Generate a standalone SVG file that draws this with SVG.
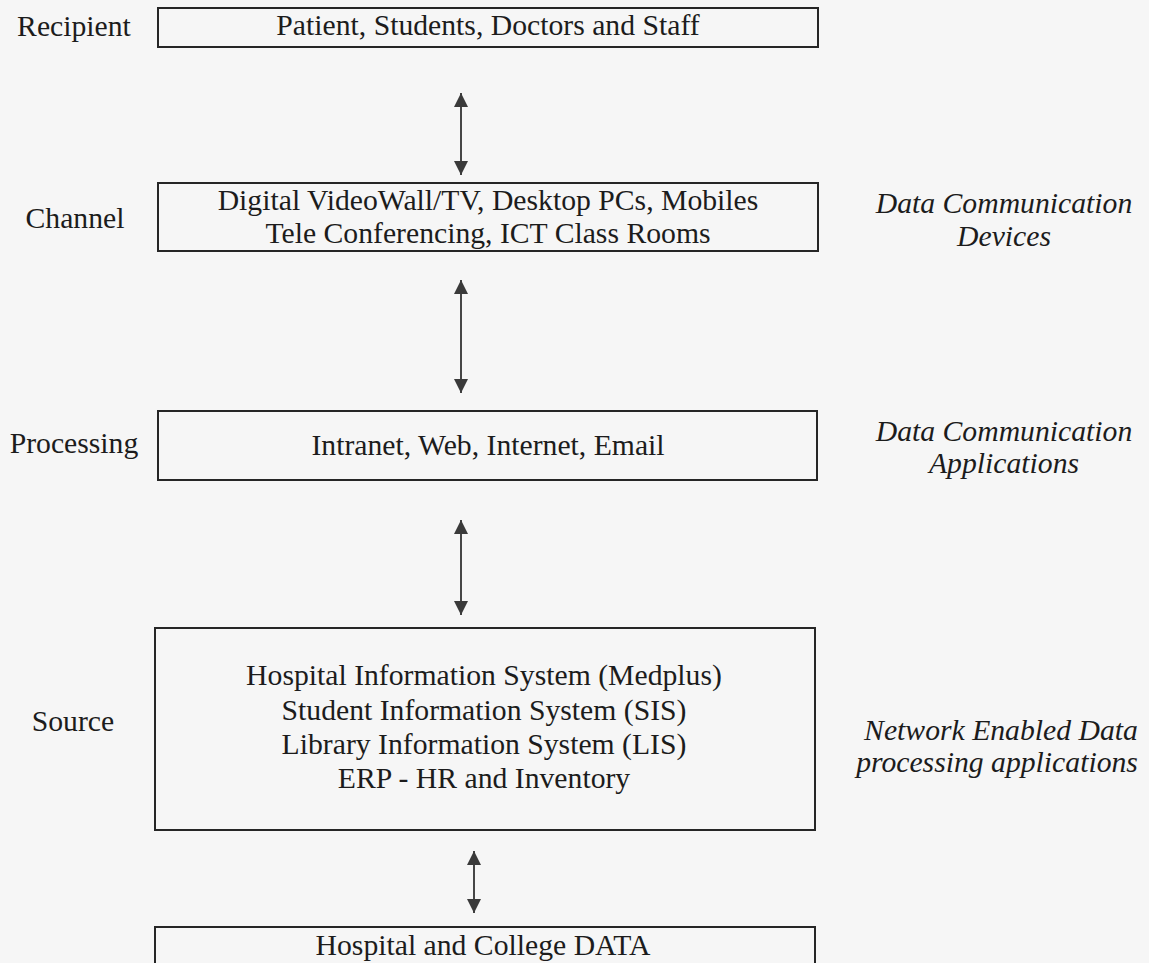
<svg xmlns="http://www.w3.org/2000/svg" width="1149" height="963" viewBox="0 0 1149 963">
  <style>
    text { font-family: "Liberation Serif", "Times New Roman", serif; font-size: 29.7px; fill: #1c1c1c; text-anchor: middle; }
    .side { font-style: italic; }
    .box { fill: none; stroke: #262626; stroke-width: 2; }
    .conn { stroke: #333; stroke-width: 1.8; fill: none; marker-start: url(#arr); marker-end: url(#arr); }
  </style>
  <defs>
    <marker id="arr" markerUnits="userSpaceOnUse" markerWidth="15" markerHeight="15" refX="14" refY="7" orient="auto-start-reverse">
      <path d="M0,0 L14,7 L0,14 z" fill="#3a3a3a"/>
    </marker>
  </defs>
  <rect width="1149" height="963" fill="#f6f6f6"/>

  <g id="labels-left">
    <text x="74" y="36">Recipient</text>
    <text x="75" y="228">Channel</text>
    <text x="74" y="453">Processing</text>
    <text x="73" y="731">Source</text>
  </g>

  <g id="labels-right" class="side">
    <text class="side" x="1004" y="213">Data Communication</text>
    <text class="side" x="1004" y="246">Devices</text>
    <text class="side" x="1004" y="441">Data Communication</text>
    <text class="side" x="1004" y="473">Applications</text>
    <text class="side" x="1001" y="740">Network Enabled Data</text>
    <text class="side" x="997" y="772">processing applications</text>
  </g>

  <g id="recipient">
    <rect class="box" x="158" y="8" width="660" height="39"/>
    <text x="488" y="35">Patient, Students, Doctors and Staff</text>
  </g>

  <g id="channel">
    <rect class="box" x="158" y="183" width="660" height="68"/>
    <text x="488" y="210">Digital VideoWall/TV, Desktop PCs, Mobiles</text>
    <text x="488" y="243">Tele Conferencing, ICT Class Rooms</text>
  </g>

  <g id="processing">
    <rect class="box" x="158" y="411" width="659" height="69"/>
    <text x="488" y="455">Intranet, Web, Internet, Email</text>
  </g>

  <g id="source">
    <rect class="box" x="155" y="628" width="660" height="202"/>
    <text x="484" y="685">Hospital Information System (Medplus)</text>
    <text x="484" y="720">Student Information System (SIS)</text>
    <text x="484" y="754">Library Information System (LIS)</text>
    <text x="484" y="788">ERP - HR and Inventory</text>
  </g>

  <g id="data">
    <rect class="box" x="155" y="927" width="660" height="60"/>
    <text x="483" y="955">Hospital and College DATA</text>
  </g>

  <g id="connectors">
    <line class="conn" x1="461" y1="93" x2="461" y2="175"/>
    <line class="conn" x1="461" y1="280" x2="461" y2="393"/>
    <line class="conn" x1="461" y1="520" x2="461" y2="615"/>
    <line class="conn" x1="474" y1="851" x2="474" y2="913"/>
  </g>
</svg>
